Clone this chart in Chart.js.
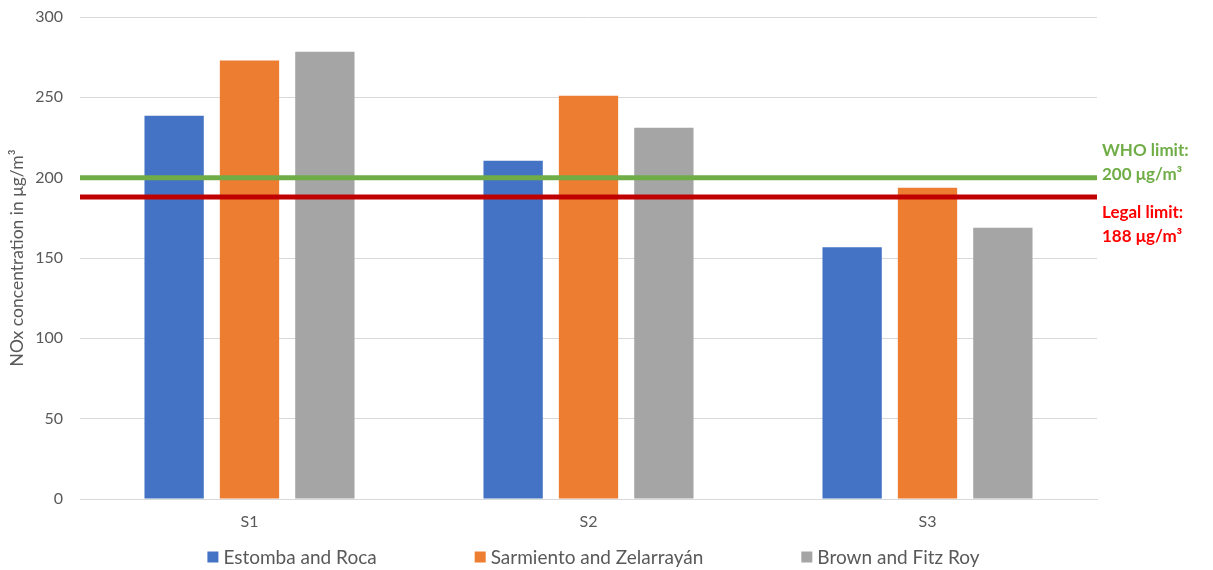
<!DOCTYPE html>
<html>
<head>
<meta charset="utf-8">
<script src="https://cdn.jsdelivr.net/npm/chart.js@4/dist/chart.umd.min.js"></script>
<style>
  html, body { margin: 0; padding: 0; background: #fff; }
  #wrap { width: 1213px; height: 570px; position: relative; }
</style>
</head>
<body>
<div id="wrap"><canvas id="c"></canvas></div>
<script>
const categories = ['S1', 'S2', 'S3'];
const estombaRoca = [238.5, 210.5, 156.7];
const sarmientoZelarrayan = [273, 251, 193.8];
const brownFitzRoy = [278.3, 231, 168.9];
const seriesNames = ['Estomba and Roca', 'Sarmiento and Zelarrayán', 'Brown and Fitz Roy'];
const yTicks = [0, 50, 100, 150, 200, 250, 300];
const limits = [
  { value: 200, lines: ['WHO limit:', '200 μg/m³'], line: '#70AD47', text: '#70AD47' },
  { value: 188, lines: ['Legal limit:', '188 μg/m³'], line: '#C00000', text: '#FF0000' }
];

const FONT = 'Lato, "Open Sans", sans-serif';

// Horizontal limit lines with their captions at the right edge
const limitPlugin = {
  id: 'limitLines',
  afterDatasetsDraw(chart) {
    const { ctx, chartArea, scales } = chart;
    limits.forEach((lim, i) => {
      const y = scales.y.getPixelForValue(lim.value);
      ctx.save();
      ctx.strokeStyle = lim.line;
      ctx.lineWidth = 5;
      ctx.beginPath();
      ctx.moveTo(chartArea.left, y);
      ctx.lineTo(chartArea.right, y);
      ctx.stroke();
      ctx.fillStyle = lim.text;
      ctx.font = 'bold 17px ' + FONT;
      ctx.textAlign = 'left';
      ctx.textBaseline = 'middle';
      const x = chartArea.right + 5;
      const top = i === 0 ? y - 27 : y + 16;
      ctx.fillText(lim.lines[0], x, top);
      ctx.fillText(lim.lines[1], x, top + 24);
      ctx.restore();
    });
  }
};

// Bottom legend built from the datasets, laid out in one row
const rowLegend = {
  id: 'rowLegend',
  afterDraw(chart) {
    const { ctx, chartArea } = chart;
    const box = 11, gapBoxText = 5, gapItems = 98;
    ctx.save();
    ctx.font = '19px ' + FONT;
    ctx.textBaseline = 'middle';
    ctx.textAlign = 'left';
    const items = chart.data.datasets.map(ds => ({
      label: ds.label, color: ds.backgroundColor,
      w: box + gapBoxText + ctx.measureText(ds.label).width
    }));
    const total = items.reduce((s, it) => s + it.w, 0) + gapItems * (items.length - 1);
    let x = (chartArea.left + chartArea.right) / 2 + 5 - total / 2;
    const y = 557;
    items.forEach(it => {
      ctx.fillStyle = it.color;
      ctx.fillRect(x, y - box / 2, box, box);
      ctx.fillStyle = '#595959';
      ctx.fillText(it.label, x + box + gapBoxText, y + 1);
      x += it.w + gapItems;
    });
    ctx.restore();
  }
};

new Chart(document.getElementById('c'), {
  type: 'bar',
  data: {
    labels: categories,
    datasets: [
      { label: seriesNames[0], data: estombaRoca, backgroundColor: '#4472C4' },
      { label: seriesNames[1], data: sarmientoZelarrayan, backgroundColor: '#ED7D31' },
      { label: seriesNames[2], data: brownFitzRoy, backgroundColor: '#A5A5A5' }
    ]
  },
  plugins: [limitPlugin, rowLegend],
  options: {
    responsive: true,
    maintainAspectRatio: false,
    animation: false,
    layout: { padding: { left: 7, right: 116, top: 0, bottom: 26 } },
    datasets: { bar: { categoryPercentage: 0.667, barPercentage: 0.787 } },
    scales: {
      x: {
        afterFit(axis) { axis.height = 45; },
        grid: { display: false, drawTicks: false },
        border: { color: '#D9D9D9', width: 1 },
        ticks: { color: '#595959', font: { family: FONT, size: 16 }, padding: 13 }
      },
      y: {
        min: 0, max: 300,
        afterBuildTicks(axis) { axis.ticks = yTicks.map(v => ({ value: v })); },
        afterFit(axis) { axis.width = 73; axis.paddingTop = 17; axis.paddingBottom = 0; },
        grid: { color: '#D9D9D9', drawTicks: false },
        border: { display: false },
        ticks: { color: '#595959', font: { family: FONT, size: 16 }, padding: 17 },
        title: {
          display: true,
          text: 'NOx concentration in μg/m³',
          color: '#595959',
          font: { family: FONT, size: 17.5 },
          padding: 0
        }
      }
    },
    plugins: {
      legend: { display: false },
      tooltip: { enabled: false }
    }
  }
});
</script>
</body>
</html>
